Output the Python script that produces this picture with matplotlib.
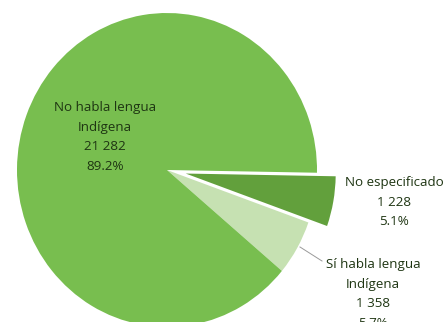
import matplotlib.pyplot as plt

# Población por condición de habla de lengua indígena
categorias = ['No especificado', 'Sí habla lengua\nIndígena', 'No habla lengua\nIndígena']
valores = [1228, 1358, 21282]
etiquetas_num = ['1 228', '1 358', '21 282']
porcentajes = ['5.1%', '5.7%', '89.2%']
colores = ['#62a03c', '#c6e1b2', '#78be4f']

W, H = 447, 322
k = 157 / 150  # el pastel sale un poco más alto que ancho


def py(y_px):
    # fila en pixeles (desde arriba) -> coordenada y de los datos
    return (H - y_px) / k


fig = plt.figure(figsize=(W / 100, H / 100), dpi=100)
ax = fig.add_axes([0, 0, 1, 1])

cx, cy, r = 167, py(170), 150
ax.pie(valores, colors=colores, startangle=-1, counterclock=False,
       radius=r, center=(cx, cy), explode=[19, 0, 0], frame=True,
       wedgeprops=dict(linewidth=0))
ax.set_xlim(0, W)
ax.set_ylim(0, H / k)
ax.set_aspect('auto')
ax.axis('off')

fuente = dict(family='Open Sans', fontsize=9.6, color='#1e3512', ha='center',
              va='top', linespacing=1.66)

ax.text(105, py(101), f'{categorias[2]}\n{etiquetas_num[2]}\n{porcentajes[2]}', **fuente)
ax.text(394, py(176), f'{categorias[0]}\n{etiquetas_num[0]}\n{porcentajes[0]}', **fuente)
ax.text(373, py(258), f'{categorias[1]}\n{etiquetas_num[1]}\n{porcentajes[1]}', **fuente)

# línea guía de "Sí habla lengua indígena"
ax.plot([300, 322], [py(247), py(261)], color='#9a9a9a', linewidth=0.7)

fig.savefig('out.png', dpi=100)
